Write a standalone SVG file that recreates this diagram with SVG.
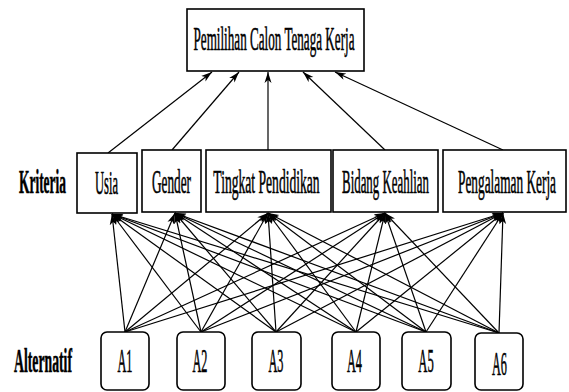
<svg xmlns="http://www.w3.org/2000/svg" width="569" height="392" viewBox="0 0 569 392">
<defs>
<marker id="arr" markerWidth="12" markerHeight="8" refX="11" refY="4" orient="auto" markerUnits="userSpaceOnUse">
<path d="M0,0.5 L11,4 L0,7.5 L3,4 z" fill="#000"/>
</marker>
<style>
.box{fill:#fff;stroke:#000;stroke-width:1.6}
.t{font-family:"Liberation Serif","DejaVu Serif",serif;font-size:34px;fill:#000;stroke:#000;stroke-width:0.6;text-anchor:middle}
.lbl{font-family:"Liberation Serif","DejaVu Serif",serif;font-size:34px;fill:#000;stroke:#000;stroke-width:0.6;font-weight:bold;text-anchor:middle}
.c line{stroke:#000;stroke-width:1.2;marker-end:url(#arr)}
</style>
</defs>
<rect width="569" height="392" fill="#fff"/>
<g class="c" id="connectors">
<line x1="108" y1="153" x2="212" y2="72"/>
<line x1="172" y1="150" x2="239" y2="72"/>
<line x1="268" y1="150" x2="268" y2="72"/>
<line x1="385" y1="150" x2="303" y2="72"/>
<line x1="503" y1="150" x2="335" y2="72"/>
<line x1="125" y1="332" x2="112" y2="214"/>
<line x1="125" y1="332" x2="175" y2="213"/>
<line x1="125" y1="332" x2="268" y2="213"/>
<line x1="125" y1="332" x2="385" y2="213"/>
<line x1="125" y1="332" x2="503" y2="213"/>
<line x1="201" y1="332" x2="112" y2="214"/>
<line x1="201" y1="332" x2="175" y2="213"/>
<line x1="201" y1="332" x2="268" y2="213"/>
<line x1="201" y1="332" x2="385" y2="213"/>
<line x1="201" y1="332" x2="503" y2="213"/>
<line x1="276" y1="332" x2="112" y2="214"/>
<line x1="276" y1="332" x2="175" y2="213"/>
<line x1="276" y1="332" x2="268" y2="213"/>
<line x1="276" y1="332" x2="385" y2="213"/>
<line x1="276" y1="332" x2="503" y2="213"/>
<line x1="356" y1="332" x2="112" y2="214"/>
<line x1="356" y1="332" x2="175" y2="213"/>
<line x1="356" y1="332" x2="268" y2="213"/>
<line x1="356" y1="332" x2="385" y2="213"/>
<line x1="356" y1="332" x2="503" y2="213"/>
<line x1="426" y1="332" x2="112" y2="214"/>
<line x1="426" y1="332" x2="175" y2="213"/>
<line x1="426" y1="332" x2="268" y2="213"/>
<line x1="426" y1="332" x2="385" y2="213"/>
<line x1="426" y1="332" x2="503" y2="213"/>
<line x1="499" y1="333" x2="112" y2="214"/>
<line x1="499" y1="333" x2="175" y2="213"/>
<line x1="499" y1="333" x2="268" y2="213"/>
<line x1="499" y1="333" x2="385" y2="213"/>
<line x1="499" y1="333" x2="503" y2="213"/>
</g>
<g id="goal">
<rect class="box" x="187" y="9" width="177" height="62"/>
<text class="t" transform="translate(274,50) scale(0.386,1)">Pemilihan Calon Tenaga Kerja</text>
</g>
<g id="label-kriteria">
<text class="lbl" transform="translate(42.5,193) scale(0.395,1)">Kriteria</text>
</g>
<g id="usia">
<rect class="box" x="77" y="153" width="60" height="60"/>
<text class="t" transform="translate(106.5,194) scale(0.369,1)">Usia</text>
</g>
<g id="gender">
<rect class="box" x="142" y="150" width="59" height="62"/>
<text class="t" transform="translate(171.5,193) scale(0.39,1)">Gender</text>
</g>
<g id="tingkat">
<rect class="box" x="206" y="150" width="125" height="62"/>
<text class="t" transform="translate(266.5,193) scale(0.4,1)">Tingkat Pendidikan</text>
</g>
<g id="bidang">
<rect class="box" x="333" y="150" width="105" height="62"/>
<text class="t" transform="translate(385.5,193) scale(0.379,1)">Bidang Keahlian</text>
</g>
<g id="pengalaman">
<rect class="box" x="443" y="150" width="123" height="62"/>
<text class="t" transform="translate(507,193) scale(0.392,1)">Pengalaman Kerja</text>
</g>
<g id="label-alternatif">
<text class="lbl" transform="translate(43,372) scale(0.404,1)">Alternatif</text>
</g>
<g id="a1">
<rect class="box" x="101" y="332" width="48" height="58" rx="6"/>
<text class="t" transform="translate(125,372) scale(0.36,1)">A1</text>
</g>
<g id="a2">
<rect class="box" x="177" y="332" width="48" height="58" rx="6"/>
<text class="t" transform="translate(200,372) scale(0.36,1)">A2</text>
</g>
<g id="a3">
<rect class="box" x="252" y="332" width="49" height="58" rx="6"/>
<text class="t" transform="translate(276,372) scale(0.36,1)">A3</text>
</g>
<g id="a4">
<rect class="box" x="332" y="332" width="48" height="58" rx="6"/>
<text class="t" transform="translate(354.5,372) scale(0.36,1)">A4</text>
</g>
<g id="a5">
<rect class="box" x="402" y="332" width="49" height="58" rx="6"/>
<text class="t" transform="translate(426,372) scale(0.37,1)">A5</text>
</g>
<g id="a6">
<rect class="box" x="475" y="333" width="48" height="57" rx="6"/>
<text class="t" transform="translate(499.5,375) scale(0.36,1)">A6</text>
</g>
</svg>
